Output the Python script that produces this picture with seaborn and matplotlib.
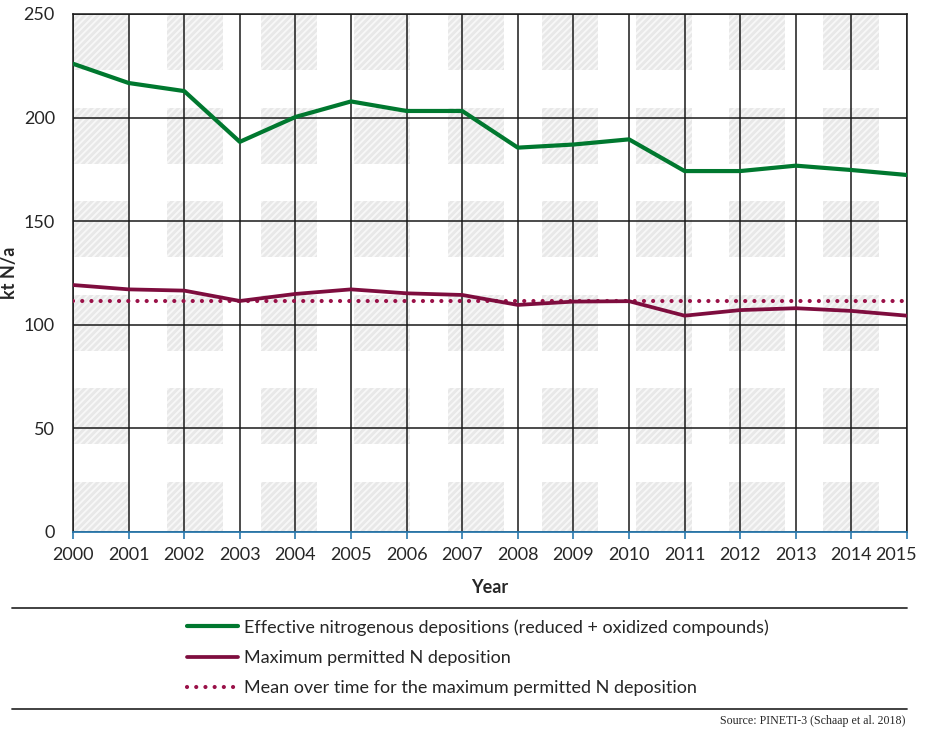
import numpy as np
import pandas as pd
import seaborn as sns
import matplotlib.pyplot as plt
from matplotlib.lines import Line2D
from matplotlib.patches import Rectangle
from matplotlib.transforms import ScaledTranslation

# data
years = list(range(2000, 2016))
effective = [226, 216.7, 212.8, 188.3, 200.3, 207.8, 203.2, 203.2,
             185.5, 187.0, 189.5, 174.2, 174.2, 176.8, 174.7, 172.3]
max_permitted = [119.2, 117.1, 116.5, 111.5, 114.9, 117.1, 115.2, 114.4,
                 109.6, 111.2, 111.4, 104.4, 107.1, 108.0, 106.7, 104.4]
mean_permitted = [111.5] * 16

labels = ['Effective nitrogenous depositions (reduced + oxidized compounds)',
          'Maximum permitted N deposition',
          'Mean over time for the maximum permitted N deposition']

green = '#00782F'
maroon = '#7E0D3E'
crimson = '#9A1148'
axis_blue = '#2A78AC'
fs = 13

sns.set_theme(style='white')
plt.rcParams['font.family'] = ['Lato', 'DejaVu Sans']
plt.rcParams['hatch.linewidth'] = 2.0
plt.rcParams['hatch.color'] = '#e8e8e8'

df = pd.DataFrame({'Year': years, 'eff': effective, 'max': max_permitted, 'mean': mean_permitted})

fig = plt.figure(figsize=(9.25, 7.3), dpi=100)
ax = fig.add_axes([73/925, 1-532/730, 834/925, 518/730])

# background watermark of hatched blocks
for cx in np.arange(9) * 93.75 / 834:
    for cy in np.arange(6) * 93.6 / 518:
        top = 1 - cy
        h = min(56/518, top)
        ax.add_patch(Rectangle((cx, top - h), 56/834, h, transform=ax.transAxes,
                               facecolor='#f7f7f7', edgecolor='#e8e8e8', lw=0,
                               hatch='/////', zorder=0))

sns.lineplot(data=df, x='Year', y='eff', ax=ax, color=green, lw=3.0, zorder=4)
sns.lineplot(data=df, x='Year', y='max', ax=ax, color=maroon, lw=2.7, zorder=4)
ax.plot(df['Year'], df['mean'], color=crimson, lw=3.0,
        linestyle=(0, (0.01, 2.2)), dash_capstyle='round', zorder=3)

ax.set_xlim(2000, 2015)
ax.set_ylim(0, 250)
ax.set_xticks(years)
ax.set_yticks(range(0, 251, 50))
ax.grid(True, color='#1a1a1a', lw=1.1, zorder=1)
ax.set_axisbelow(True)
for s in ['top', 'left', 'right']:
    ax.spines[s].set_color('#1a1a1a')
    ax.spines[s].set_linewidth(1.1)
ax.spines['bottom'].set_color(axis_blue)
ax.spines['bottom'].set_linewidth(1.3)
ax.tick_params(axis='x', length=5, width=1.2, color=axis_blue, direction='out',
               labelsize=fs, pad=6, bottom=True)
ax.tick_params(axis='y', length=0, labelsize=fs, pad=13)
ax.set_xlabel('Year', fontsize=fs, fontweight='bold', labelpad=11)
ax.set_ylabel('kt N/a', fontsize=fs, fontweight='bold')
ax.yaxis.set_label_coords(-(73 - 18) / 834, 0.5)

# last year label is nudged left to stay inside the figure
last = ax.get_xticklabels()[-1]
last.set_transform(last.get_transform() + ScaledTranslation(-0.11, 0, fig.dpi_scale_trans))

# legend block between two rules
for yy in [1-608/730, 1-709/730]:
    fig.add_artist(Line2D([12/925, 907/925], [yy, yy], color='#333333', lw=1.3))
handles = [Line2D([0], [0], color=green, lw=3.0),
           Line2D([0], [0], color=maroon, lw=2.7),
           Line2D([0], [0], color=crimson, lw=3.0, linestyle=(0, (0.01, 2.2)),
                  dash_capstyle='round')]
fig.legend(handles, labels, loc='upper left', bbox_to_anchor=(180/925, 1-612/730),
           frameon=False, fontsize=fs, handlelength=2.8, handletextpad=0.32,
           labelspacing=0.78, borderaxespad=0)

fig.text(905/925, 1-721/730, 'Source: PINETI-3 (Schaap et al. 2018)', ha='right', va='center',
         fontsize=8.6, family='Liberation Serif')

fig.savefig('out.png', dpi=100)
